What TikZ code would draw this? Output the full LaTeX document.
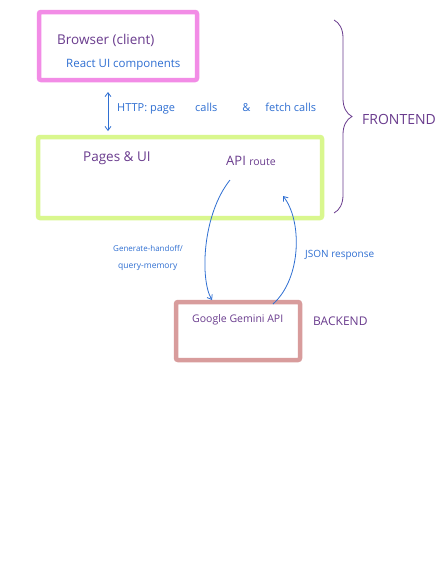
\documentclass[tikz,border=0pt]{standalone}
\usepackage{fontspec}
\setmainfont{Open Sans}
\usetikzlibrary{arrows.meta}
\usetikzlibrary{decorations.pathreplacing}
\usepackage{xcolor}
\definecolor{boxpink}{HTML}{F28CE6}
\definecolor{boxlime}{HTML}{D9F78E}
\definecolor{boxrose}{HTML}{D89C9C}
\definecolor{penpurple}{HTML}{6A3C8E}
\definecolor{penblue}{HTML}{2F6FD2}

\begin{document}
\begin{tikzpicture}[x=1pt, y=-1pt,
    box/.style = {draw=#1, line width=4.5pt, rounded corners=2pt,
                inner sep=0pt, outer sep=0pt},
    hand/.style = {text=penpurple, anchor=base west, inner sep=0pt},
    note/.style = {text=penblue, anchor=base west, inner sep=0pt},
    flow/.style = {color=penblue, line width=0.8pt,
                arrows={-Straight Barb[length=4pt,width=6pt]}}
                    ]
    \path[use as bounding box, fill=white] (0,0) rectangle (436,573);
    \def\fs#1{\fontsize{#1}{#1}\selectfont}
    % boxes
    \node[box=boxpink, minimum width=158pt, minimum height=68pt] at (118,46) (browser) {};
    \node[box=boxlime, minimum width=284pt, minimum height=81pt] at (180,177.5) (next) {};
    \node[box=boxrose, minimum width=124pt, minimum height=58pt] at (238,331) (gemini) {};
    % texts
    \node[hand, font=\fs{13.5}] at (57,44) (client) {Browser (client)};
    \node[note, font=\fs{11.5}] at (66,67) (react) {React UI components};
    \node[note, font=\fs{11}] at (117,111) (http) {HTTP: page\hspace{20pt}calls\hspace{25pt}\&\hspace{15pt}fetch calls};
    \node[hand, font=\fs{13.5}] at (83,161) (pages) {Pages \& UI};
    \node[hand, font=\fs{13}] at (226,165) (api) {API {\fs{10.5}route}};
    \node[note, font=\fs{8}] at (113,251) (gen) {Generate-handoff/};
    \node[note, font=\fs{8.5}] at (118,268) (query) {query-memory};
    \node[note, font=\fs{10}] at (305,257) (json) {JSON response};
    \node[hand, font=\fs{10.5}] at (192,322) (gapi) {Google Gemini API};
    \node[hand, font=\fs{12}] at (313,325) (back) {BACKEND};
    \node[hand, font=\fs{14}] at (362,124) (front) {FRONTEND};
    % connectors
    \coordinate (h1) at (108,92);
    \coordinate (h2) at (108,131);
    \coordinate (r1) at (230,180);
    \coordinate (r2) at (283,196);
    \coordinate (g1) at (212,300);
    \coordinate (g2) at (273,304);
    \draw[flow, arrows={Straight Barb[length=4pt,width=6pt]-Straight Barb[length=4pt,width=6pt]}] (h1) -- (h2);
    \draw[flow] (r1) .. controls (202,215) and (200,280) .. (g1);
    \draw[flow] (g2) .. controls (302,278) and (302,220) .. (r2);
    \coordinate (b1) at (334,20);
    \coordinate (b2) at (334,213);
    \draw[color=penpurple, line width=0.8pt,
          decorate, decoration={brace, amplitude=18pt}] (b1) -- (b2);
\end{tikzpicture}
\end{document}
